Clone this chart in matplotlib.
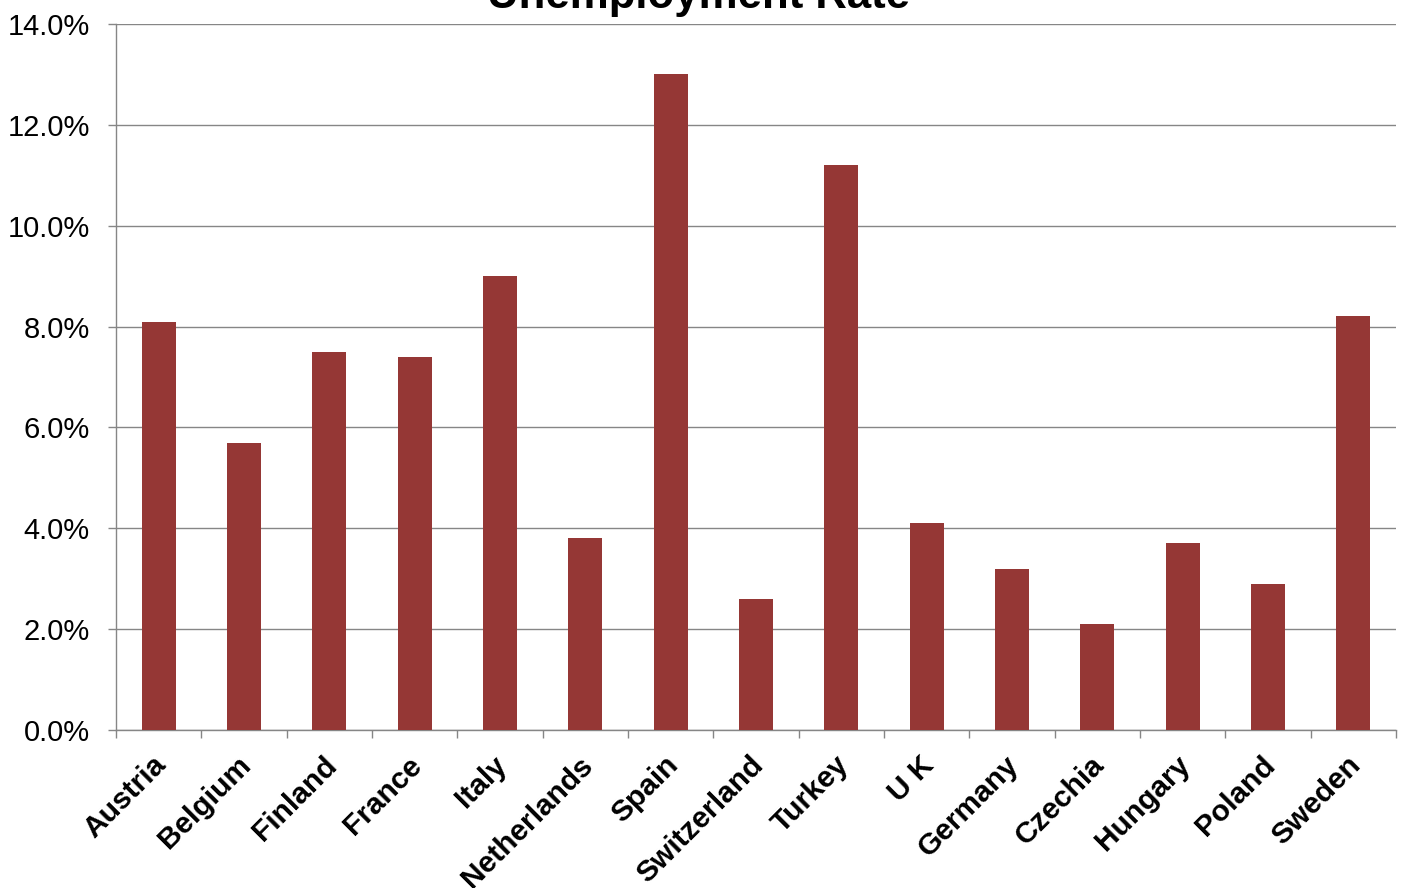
import matplotlib
matplotlib.use("Agg")
import matplotlib.pyplot as plt
from matplotlib.ticker import FuncFormatter
from matplotlib.transforms import ScaledTranslation
import numpy as np

countries = ["Austria", "Belgium", "Finland", "France", "Italy", "Netherlands", "Spain",
             "Switzerland", "Turkey", "U K", "Germany", "Czechia", "Hungary", "Poland", "Sweden"]
rates = [8.1, 5.7, 7.5, 7.4, 9.0, 3.8, 13.0, 2.6, 11.2, 4.1, 3.2, 2.1, 3.7, 2.9, 8.2]
yticks = [0, 2, 4, 6, 8, 10, 12, 14]
title = "Unemployment Rate"

plt.rcParams['font.family'] = ['Liberation Sans', 'DejaVu Sans']

fig = plt.figure(figsize=(14.07, 8.88), dpi=100)
ax = fig.add_axes([116/1407, 1-730/888, (1396-116)/1407, (730-24)/888])

x = np.arange(len(countries))
ax.bar(x, rates, width=0.4, color="#953735", zorder=3)

ax.set_xlim(-0.5, len(countries) - 0.5)
ax.set_ylim(0, 14)
ax.set_yticks(yticks)
ax.yaxis.set_major_formatter(FuncFormatter(lambda v, p: f"{v:.1f}%"))
ax.grid(axis='y', color="#868686", linewidth=1.0, zorder=0)
ax.tick_params(axis='y', length=5.8, width=1, color="#868686", labelsize=21, pad=13)

ax.set_xticks(np.arange(-0.5, len(countries), 1.0))
ax.set_xticklabels([])
ax.set_xticks(x, minor=True)
ax.set_xticklabels(countries, minor=True, rotation=45, ha='right', va='top',
                   rotation_mode='anchor', fontsize=21.5, fontweight='bold')
ax.tick_params(axis='x', which='major', length=5.8, width=1, color="#868686")
ax.tick_params(axis='x', which='minor', length=0, pad=15)
offset = ScaledTranslation(-7/100, 0, fig.dpi_scale_trans)
for lab in ax.get_xticklabels(minor=True):
    lab.set_transform(lab.get_transform() + offset)

for s in ['top', 'right']:
    ax.spines[s].set_visible(False)
for s in ['left', 'bottom']:
    ax.spines[s].set_color("#868686")
    ax.spines[s].set_linewidth(1.0)

fig.text(0.4965, 1 - 8/888, title, ha='center', va='baseline', fontsize=31.5,
         fontweight='bold')

fig.savefig("out.png", dpi=100)
